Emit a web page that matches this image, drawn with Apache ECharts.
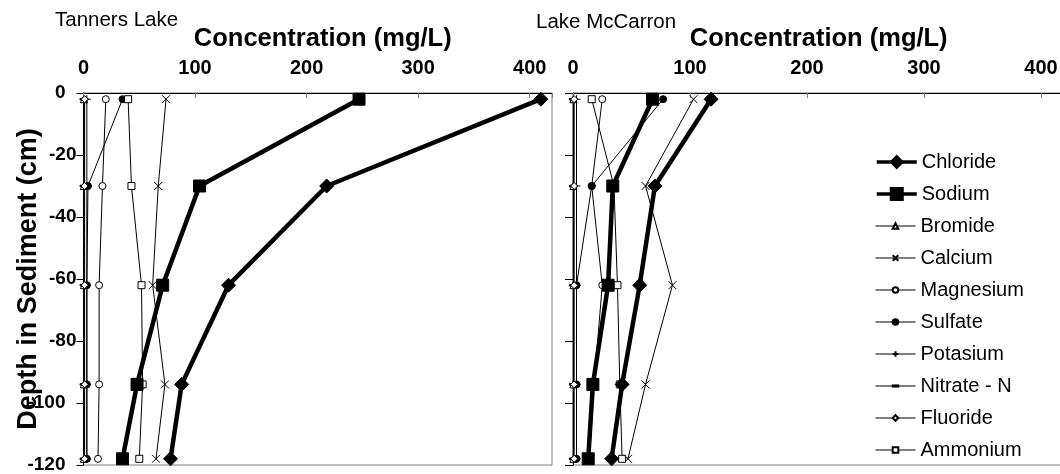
<!DOCTYPE html>
<html>
<head>
<meta charset="utf-8">
<script src="https://cdn.jsdelivr.net/npm/echarts@6/dist/echarts.min.js"></script>
<style>
  html, body { margin: 0; padding: 0; background: #fff; }
  #chart { width: 1060px; height: 474px; }
</style>
</head>
<body>
<div id="chart"></div>
<script>
// Sample depths (cm below sediment surface)
const depths = [-2, -30, -62, -94, -118];

// Tanners Lake pore-water concentrations (mg/L)
const chlorideT  = [410, 218, 130, 88, 78];
const sodiumT    = [247, 104, 71, 48, 35];
const bromideT   = [0.3, 0.3, 0.3, 0.3, 0.3];
const calciumT   = [74, 67, 62, 73, 65];
const magnesiumT = [20, 17, 14, 14, 13];
const sulfateT   = [35, 4, 3, 3, 3];
const potasiumT  = [3, 3, 3, 3, 3];
const nitrateT   = [0.5, 0.5, 0.5, 0.5, 0.5];
const fluorideT  = [1, 1, 1, 1, 1];
const ammoniumT  = [40, 43, 52, 53, 50];

// Lake McCarron pore-water concentrations (mg/L)
const chlorideM  = [118, 70, 57, 42, 33];
const sodiumM    = [68, 34, 30, 17, 13];
const bromideM   = [0.3, 0.3, 0.3, 0.3, 0.3];
const calciumM   = [103, 62, 85, 62, 47];
const magnesiumM = [25, 16, 25, 18, 14];
const sulfateM   = [77, 16, 3, 3, 3];
const potasiumM  = [3, 3, 3, 3, 3];
const nitrateM   = [0.3, 0.3, 0.3, 0.3, 0.3];
const fluorideM  = [1, 1, 1, 1, 1];
const ammoniumM  = [16, 35, 38, 40, 42];

const lakeNames = ['Tanners Lake', 'Lake McCarron'];
const xTitle = 'Concentration (mg/L)';
const yTitle = 'Depth in Sediment (cm)';
const xTicks = [0, 100, 200, 300, 400];
const yTicks = [0, -20, -40, -60, -80, -100, -120];

const FONT = '"Liberation Sans", Arial, sans-serif';

// Marker and line style per analyte
const styles = {
  'Chloride':    { symbol: 'diamond', size: 14, lw: 4.5, fill: '#000' },
  'Sodium':      { symbol: 'rect', size: 12, lw: 4.5, fill: '#000' },
  'Bromide':     { symbol: 'triangle', size: 7, lw: 1, fill: '#fff' },
  'Calcium':     { symbol: 'path://M0,0L10,10M10,0L0,10', size: 8, lw: 1, fill: 'transparent' },
  'Magnesium':   { symbol: 'circle', size: 7, lw: 1, fill: '#fff' },
  'Sulfate':     { symbol: 'circle', size: 7, lw: 1, fill: '#000' },
  'Potasium':    { symbol: 'path://M5,0L5,10M0,5L10,5', size: 8, lw: 1, fill: 'transparent' },
  // short horizontal dash inside a square box
  'Nitrate - N': { symbol: 'path://M0,0L0,0M0,4L10,4L10,6L0,6ZM10,10L10,10', size: 8, lw: 1, fill: '#000' },
  'Fluoride':    { symbol: 'diamond', size: 7, lw: 1, fill: '#fff' },
  'Ammonium':    { symbol: 'rect', size: 7, lw: 1, fill: '#fff' }
};

const names = ['Chloride', 'Sodium', 'Bromide', 'Calcium', 'Magnesium',
               'Sulfate', 'Potasium', 'Nitrate - N', 'Fluoride', 'Ammonium'];
const tanners = [chlorideT, sodiumT, bromideT, calciumT, magnesiumT,
                 sulfateT, potasiumT, nitrateT, fluorideT, ammoniumT];
const mccarron = [chlorideM, sodiumM, bromideM, calciumM, magnesiumM,
                  sulfateM, potasiumM, nitrateM, fluorideM, ammoniumM];

function makeSeries(name, values, gridIdx) {
  const s = styles[name];
  return {
    name: name,
    type: 'line',
    xAxisIndex: gridIdx,
    yAxisIndex: gridIdx === 0 ? 0 : 1,
    data: values.map((v, i) => [v, depths[i]]),
    symbol: s.symbol,
    symbolSize: s.size,
    symbolKeepAspect: false,
    showSymbol: true,
    clip: false,
    animation: false,
    lineStyle: { color: '#000', width: s.lw },
    itemStyle: { color: s.fill, borderColor: '#000', borderWidth: 1 },
    emphasis: { disabled: true },
    z: s.lw > 2 ? 3 : 2
  };
}

const series = [];
names.forEach((n, i) => series.push(makeSeries(n, tanners[i], 0)));
names.forEach((n, i) => series.push(makeSeries(n, mccarron[i], 1)));

function xAxisFor(gridIdx, padLeft) {
  return {
    type: 'value', gridIndex: gridIdx, position: 'top',
    min: 0, max: 420, interval: 100,
    axisLine: { show: true, onZero: false, lineStyle: { color: '#000', width: 1 } },
    axisTick: { show: true, inside: true, length: 5, lineStyle: { color: '#808080' } },
    splitLine: { show: false },
    axisLabel: {
      margin: 15, color: '#000', fontFamily: FONT, fontSize: 20, fontWeight: 'bold',
      formatter: v => (xTicks.indexOf(v) >= 0 ? String(v) : '')
    },
    name: xTitle, nameLocation: 'middle', nameGap: 41, nameMoveOverlap: false,
    nameTextStyle: { color: '#000', fontFamily: FONT, fontSize: 25.5, fontWeight: 'bold',
                     padding: [0, 0, 0, padLeft] }
  };
}

const legendText = { color: '#000', fontFamily: FONT, fontSize: 20 };

const option = {
  animation: false,
  backgroundColor: '#fff',
  title: [
    { text: lakeNames[0], left: 55, top: 10, padding: 0,
      textStyle: { color: '#000', fontFamily: FONT, fontSize: 20.5, fontWeight: 'normal' } },
    { text: lakeNames[1], left: 536, top: 12, padding: 0,
      textStyle: { color: '#000', fontFamily: FONT, fontSize: 20.5, fontWeight: 'normal' } }
  ],
  grid: [
    { left: 83.5, top: 93, width: 468.5, height: 372, show: true, outerBoundsMode: 'none',
      borderColor: '#808080', borderWidth: 1, backgroundColor: '#fff' },
    { left: 573, top: 93, width: 491.4, height: 372, show: true, outerBoundsMode: 'none',
      borderColor: '#808080', borderWidth: 1, backgroundColor: '#fff' }
  ],
  xAxis: [xAxisFor(0, 10), xAxisFor(1, 0)],
  yAxis: [
    {
      type: 'value', gridIndex: 0, min: -120, max: 0, interval: 20,
      axisLine: { show: true, onZero: false, lineStyle: { color: '#000', width: 1 } },
      axisTick: { show: true, inside: false, length: 7, lineStyle: { color: '#000' } },
      splitLine: { show: false },
      axisLabel: {
        margin: 7, color: '#000', fontFamily: FONT, fontSize: 19, fontWeight: 'bold',
        formatter: v => {
          if (yTicks.indexOf(v) < 0) return '';
          const far = (v === 0 || v <= -100);
          return far ? '{far|' + v + '}' : '{near|' + v + '}';
        },
        rich: {
          near: { fontFamily: FONT, fontSize: 19, fontWeight: 'bold', color: '#000' },
          far: { fontFamily: FONT, fontSize: 19, fontWeight: 'bold', color: '#000', padding: [0, 11, 0, 0] }
        }
      },
      name: yTitle, nameLocation: 'middle', nameRotate: 90, nameGap: 41, nameMoveOverlap: false,
      nameTextStyle: { color: '#000', fontFamily: FONT, fontSize: 27, fontWeight: 'bold' }
    },
    {
      type: 'value', gridIndex: 1, min: -120, max: 0, interval: 20,
      axisLine: { show: true, onZero: false, lineStyle: { color: '#000', width: 1 } },
      axisTick: { show: true, inside: false, length: 8, lineStyle: { color: '#000' } },
      splitLine: { show: false },
      axisLabel: { show: false }
    },
    {
      type: 'value', gridIndex: 1, min: -120, max: 0, interval: 20,
      axisLine: { show: false },
      axisTick: { show: true, inside: true, length: 5, lineStyle: { color: '#000' } },
      splitLine: { show: false },
      axisLabel: { show: false }
    }
  ],
  legend: [
    {
      data: names.slice(0, 2), orient: 'vertical', left: 875, top: 152, padding: 0,
      itemWidth: 40, itemHeight: 15, itemGap: 12, selectedMode: false,
      lineStyle: { width: 3.5, color: '#000' },
      textStyle: legendText
    },
    {
      data: names.slice(2), orient: 'vertical', left: 875, top: 216, padding: 0,
      itemWidth: 40, itemHeight: 7, itemGap: 12, selectedMode: false,
      lineStyle: { width: 1, color: '#000' },
      textStyle: legendText
    }
  ],
  series: series
};

const chart = echarts.init(document.getElementById('chart'), null, { renderer: 'canvas' });
chart.setOption(option);
</script>
</body>
</html>
